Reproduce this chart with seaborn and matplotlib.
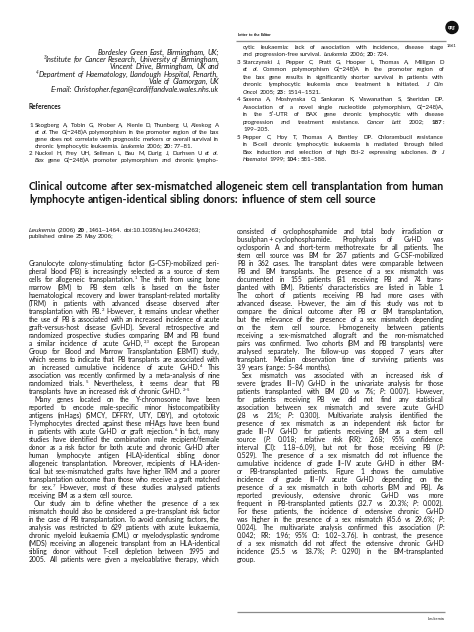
import re
import numpy as np
import matplotlib
matplotlib.use("Agg")
import matplotlib.pyplot as plt
from matplotlib.font_manager import FontProperties
from matplotlib.patches import Circle
import seaborn as sns

# --- page text (markup: _italic_, *bold*, {superscript}, leading ">" = indented paragraph) ---
header_label = "Letter to the Editor"
page_number = "1461"
logo_label = "npg"
footer_label = "Leukemia"
references_heading = "References"

affiliation_lines = [
    "Bordesley Green East, Birmingham, UK;",
    "{3}Institute for Cancer Research, University of Birmingham,",
    "Vincent Drive, Birmingham, UK and",
    "{4}Department of Haematology, Llandough Hospital, Penarth,",
    "Vale of Glamorgan, UK",
    "E-mail: Christopher.fegan@cardiffandvale.wales.nhs.uk",
]

reference_left_lines = [
    "1 Skogberg A, Tobin G, Krober A, Kienle D, Thunberg U, Aleskog A",
    "_et al._ The G(−248)A polymorphism in the promoter region of the bax",
    "gene does not correlate with prognostic markers or overall survival in",
    "chronic lymphocytic leukaemia. _Leukemia_ 2006; *20*: 77–81.",
    "2 Nuckel H, Frey UH, Sellman L, Bau M, Durig J, Durhsen U _et al._",
    "_Bax_ gene G(−248)A promoter polymorphism and chronic lympho-",
]

reference_right_lines = [
    "cytic leukaemia: lack of association with incidence, disease stage",
    "and progression-free survival. _Leukemia_ 2006; *20*: 724.",
    "3 Starczynski J, Pepper C, Pratt G, Hooper L, Thomas A, Milligan D",
    "_et al._ Common polymorphism G(−248)A in the promoter region of",
    "the bax gene results in significantly shorter survival in patients with",
    "chronic lymphocytic leukemia once treatment is initiated. _J Clin_",
    "_Oncol_ 2005; *23*: 1514–1521.",
    "4 Saxena A, Moshynska O, Sankaran K, Viswanathan S, Sheridan DP.",
    "Association of a novel single nucleotide polymorphism, G(−248)A,",
    "in the 5′-UTR of BAX gene chronic lymphocytic with disease",
    "progression and treatment resistance. _Cancer Lett_ 2002; *187*:",
    "199–205.",
    "5 Pepper C, Hoy T, Thomas A, Bentley DP. Chlorambucil resistance",
    "in B-cell chronic lymphocytic leukaemia is mediated through failed",
    "Bax induction and selection of high Bcl-2 expressing subclones. _Br J_",
    "_Haematol_ 1999; *104*: 581–588.",
]

title_lines = [
    "Clinical outcome after sex-mismatched allogeneic stem cell transplantation from human",
    "lymphocyte antigen-identical sibling donors: influence of stem cell source",
]

citation_lines = [
    "_Leukemia_ (2006) *20*, 1461–1464. doi:10.1038/sj.leu.2404263;",
    "published online 25 May 2006;",
]

body_left_lines = [
    "Granulocyte colony-stimulating factor (G-CSF)-mobilized peri-",
    "pheral blood (PB) is increasingly selected as a source of stem",
    "cells for allogeneic transplantation.{1} The shift from using bone",
    "marrow (BM) to PB stem cells is based on the faster",
    "haematological recovery and lower transplant-related mortality",
    "(TRM) in patients with advanced disease observed after",
    "transplantation with PB.{2} However, it remains unclear whether",
    "the use of PB is associated with an increased incidence of acute",
    "graft-versus-host disease (GvHD). Several retrospective and",
    "randomized prospective studies comparing BM and PB found",
    "a similar incidence of acute GvHD,{2,3} except the European",
    "Group for Blood and Marrow Transplantation (EBMT) study,",
    "which seems to indicate that PB transplants are associated with",
    "an increased cumulative incidence of acute GvHD.{4} This",
    "association was recently confirmed by a meta-analysis of nine",
    "randomized trials.{5} Nevertheless, it seems clear that PB",
    "transplants have an increased risk of chronic GvHD.{2–5}",
    ">Many genes located on the Y-chromosome have been",
    "reported to encode male-specific minor histocompatibility",
    "antigens (mHags) (SMCY, DFFRY, UTY, DBY), and cytotoxic",
    "T-lymphocytes directed against these mHAgs have been found",
    "in patients with acute GvHD or graft rejection.{6} In fact, many",
    "studies have identified the combination male recipient/female",
    "donor as a risk factor for both acute and chronic GvHD after",
    "human lymphocyte antigen (HLA)-identical sibling donor",
    "allogeneic transplantation. Moreover, recipients of HLA-iden-",
    "tical but sex-mismatched grafts have higher TRM and a poorer",
    "transplantation outcome than those who receive a graft matched",
    "for sex.{7} However, most of these studies analysed patients",
    "receiving BM as a stem cell source.",
    ">Our study aim to define whether the presence of a sex",
    "mismatch should also be considered a pre-transplant risk factor",
    "in the case of PB transplantation. To avoid confusing factors, the",
    "analysis was restricted to 629 patients with acute leukaemia,",
    "chronic myeloid leukaemia (CML) or myelodysplastic syndrome",
    "(MDS) receiving an allogeneic transplant from an HLA-identical",
    "sibling donor without T-cell depletion between 1995 and",
    "2005. All patients were given a myeloablative therapy, which",
]

body_right_lines = [
    "consisted of cyclophosphamide and total body irradiation or",
    "busulphan\u00a0+\u00a0cyclophosphamide. Prophylaxis of GvHD was",
    "cyclosporin A and short-term methotrexate for all patients. The",
    "stem cell source was BM for 267 patients and G-CSF-mobilized",
    "PB in 362 cases. The transplant dates were comparable between",
    "PB and BM transplants. The presence of a sex mismatch was",
    "documented in 155 patients (81 receiving PB and 74 trans-",
    "planted with BM). Patients' characteristics are listed in Table 1.",
    "The cohort of patients receiving PB had more cases with",
    "advanced disease. However, the aim of this study was not to",
    "compare the clinical outcome after PB or BM transplantation,",
    "but the relevance of the presence of a sex mismatch depending",
    "on the stem cell source. Homogeneity between patients",
    "receiving a sex-mismatched allograft and the non-mismatched",
    "pairs was confirmed. Two cohorts (BM and PB transplants) were",
    "analysed separately. The follow-up was stopped 7 years after",
    "transplant. Median observation time of surviving patients was",
    "3.9 years (range: 5–84 months).",
    ">Sex mismatch was associated with an increased risk of",
    "severe (grades III–IV) GvHD in the univariate analysis for those",
    "patients transplanted with BM (20 vs 7%; _P_: 0.007). However,",
    "for patients receiving PB we did not find any statistical",
    "association between sex mismatch and severe acute GvHD",
    "(28 vs 21%; _P_: 0.300). Multivariate analysis identified the",
    "presence of sex mismatch as an independent risk factor for",
    "grade III–IV GvHD for patients receiving BM as a stem cell",
    "source (_P_: 0.018; relative risk (RR): 2.68; 95% confidence",
    "interval (CI): 1.18–6.09), but not for those receiving PB (_P_:",
    "0.529). The presence of a sex mismatch did not influence the",
    "cumulative incidence of grade II–IV acute GvHD in either BM-",
    "or PB-transplanted patients. Figure 1 shows the cumulative",
    "incidence of grade III–IV acute GvHD depending on the",
    "presence of a sex mismatch in both cohorts (BM and PB). As",
    "reported previously, extensive chronic GvHD was more",
    "frequent in PB-transplanted patients (32.7 vs 20.3%; _P_: 0.002).",
    "For these patients, the incidence of extensive chronic GvHD",
    "was higher in the presence of a sex mismatch (45.6 vs 29.6%; _P_:",
    "0.024). The multivariate analysis confirmed this association (_P_:",
    "0.042; RR: 1.96; 95% CI: 1.02–3.76). In contrast, the presence",
    "of a sex mismatch did not affect the extensive chronic GvHD",
    "incidence (25.5 vs 18.7%; _P_: 0.290) in the BM-transplanted",
    "group.",
]

# --- page geometry in pixels ---
PAGE_W, PAGE_H = 474, 632
LEFT = (29, 220)
RIGHT = (237, 444)
INK = "#161616"
RULE = "#8a8a8a"
BODY_FONT = ["Lato", "DejaVu Sans"]
HEAD_FONT = ["Liberation Sans", "DejaVu Sans"]
PX = 100 / 72  # pixels per point

sns.set_theme(style="white")
plt.rcParams["font.family"] = BODY_FONT

fig = plt.figure(figsize=(PAGE_W / 100, PAGE_H / 100), dpi=100)
ax = fig.add_axes([0, 0, 1, 1])
ax.set_xlim(0, PAGE_W)
ax.set_ylim(PAGE_H, 0)
ax.axis("off")
renderer = fig.canvas.get_renderer()


def parse(line, italic=False, bold=False):
    words, segs, buf, sup = [], [], "", False
    for ch in line:
        if ch in "_*{} ":
            if buf:
                segs.append((buf, italic, bold, sup))
                buf = ""
            if ch == "_":
                italic = not italic
            elif ch == "*":
                bold = not bold
            elif ch == "{":
                sup = True
            elif ch == "}":
                sup = False
            elif segs:
                words.append(segs)
                segs = []
        else:
            buf += ch
    if buf:
        segs.append((buf, italic, bold, sup))
    if segs:
        words.append(segs)
    return words


def prop(family, size, it=False, bd=False, sup=False):
    return FontProperties(family=family, size=size * 0.62 if sup else size,
                          style="italic" if it else "normal",
                          weight="bold" if bd else "normal")


def metrics(s, fp):
    return renderer.get_text_width_height_descent(s, fp, ismath=False)


def text_w(s, fp):
    return metrics(s, fp)[0]


def snapped(s, fp, base):
    # keep every word of a line on the same pixel baseline in the Agg raster
    _, h, d = metrics(s, fp)
    return round(base) + np.floor(h) - np.floor(h - d) - d


def word_w(word, family, size):
    return sum(text_w(t, prop(family, size, it, bd, sp)) for t, it, bd, sp in word)


def space_w(family, size, bold=False):
    fp = prop(family, size, bd=bold)
    return text_w("a a", fp) - text_w("aa", fp)


def line_w(line, family, size, italic=False, bold=False, squeeze=1.0):
    words = parse(line, italic, bold)
    return (sum(word_w(w, family, size) for w in words)
            + squeeze * space_w(family, size, bold) * (len(words) - 1))


def fit(line, width, family, italic=False, bold=False):
    return 10 * width / line_w(line, family, 10, italic, bold)


def put_word(word, x, base, family, size, color):
    for t, it, bd, sp in word:
        fp = prop(family, size, it, bd, sp)
        y = base - (0.42 * size * PX if sp else 0)
        ax.text(x, snapped(t, fp, y), t, fontproperties=fp,
                ha="left", va="baseline", color=color)
        x += text_w(t, fp)


def draw_line(line, x0, x1, y, family, size, justify=False, align="left",
              italic=False, bold=False, color=INK):
    words = parse(line, italic, bold)
    widths = [word_w(w, family, size) for w in words]
    gap = space_w(family, size, bold)
    x = x0
    if align == "right":
        x = x1 - sum(widths) - gap * (len(words) - 1)
    elif justify and len(words) > 1:
        gap = (x1 - x0 - sum(widths)) / (len(words) - 1)
    base = y + 0.3 * size * PX
    for word, w in zip(words, widths):
        put_word(word, x, base, family, size, color)
        x += w + gap


def layout(lines, x0, x1, indent=0.0, hang=0.0, refs=False, continues=False):
    rows = []
    for k, raw in enumerate(lines):
        nxt = lines[k + 1] if k + 1 < len(lines) else None
        if nxt is None:
            ends = not continues
        else:
            ends = nxt.startswith(">") or (refs and re.match(r"\d+ ", nxt) is not None)
        text, num, start = raw, None, x0
        if raw.startswith(">"):
            text, start = raw[1:], x0 + indent
        if refs:
            m = re.match(r"(\d+) (.*)", raw)
            if m:
                num, text = m.group(1), m.group(2)
            start = x0 + hang
        rows.append(dict(text=text, num=num, x0=start, x1=x1, justify=not ends, x_num=x0))
    return rows


def fit_rows(rows, family, squeeze=0.8):
    ratios = [(r["x1"] - r["x0"]) / line_w(r["text"], family, 10, squeeze=squeeze)
              for r in rows if r["justify"]]
    return 10 * min(ratios)


def draw_rows(rows, y0, dy, family, size):
    for k, r in enumerate(rows):
        y = y0 + k * dy
        if r["num"]:
            draw_line(r["num"], r["x_num"], r["x1"], y, family, size)
        draw_line(r["text"], r["x0"], r["x1"], y, family, size, justify=r["justify"])


# header strip
head_size = fit(header_label, 34, HEAD_FONT, bold=True)
draw_line(header_label, 238, 445, 35, HEAD_FONT, head_size, bold=True)
ax.hlines(40.5, 236, 446, color=RULE, lw=0.9)
ax.add_patch(Circle((452, 27.5), 6.0, color="#111111"))
ax.text(452, 27.8, logo_label, color="white", fontsize=3.5, fontweight="bold",
        fontstyle="italic", ha="center", va="center", family=BODY_FONT)
num_size = fit(page_number, 10, BODY_FONT)
ax.text(452, 46, page_number, fontsize=num_size, ha="center", va="center",
        color=INK, family=BODY_FONT)

# affiliations, right aligned and italic
aff_size = fit(affiliation_lines[-1], 170, BODY_FONT, italic=True)
for k, line in enumerate(affiliation_lines):
    draw_line(line, LEFT[0], 219, 52.3 + k * 7.45, BODY_FONT, aff_size,
              align="right", italic=True)

# references
refh_size = fit(references_heading, 33, BODY_FONT, bold=True)
draw_line(references_heading, LEFT[0], LEFT[1], 107.5, BODY_FONT, refh_size, bold=True)
ref_l = layout(reference_left_lines, LEFT[0], 219, hang=6, refs=True, continues=True)
ref_r = layout(reference_right_lines, RIGHT[0], RIGHT[1], hang=6, refs=True)
ref_size = min(fit_rows(ref_l, BODY_FONT), fit_rows(ref_r, BODY_FONT))
draw_rows(ref_l, 125.5, 7.0, BODY_FONT, ref_size)
draw_rows(ref_r, 47.0, 7.5, BODY_FONT, ref_size)

# title
title_size = fit(title_lines[0], RIGHT[1] - LEFT[0], BODY_FONT, bold=True)
for k, line in enumerate(title_lines):
    draw_line(line, LEFT[0], RIGHT[1], 187 + k * 13, BODY_FONT, title_size, bold=True)

# citation block
cite_size = fit(citation_lines[0], 172, HEAD_FONT)
for k, line in enumerate(citation_lines):
    draw_line(line, LEFT[0], LEFT[1], 230 + k * 6.2, HEAD_FONT, cite_size)

# body columns
body_l = layout(body_left_lines, LEFT[0], LEFT[1], indent=5, continues=True)
body_r = layout(body_right_lines, RIGHT[0], RIGHT[1], indent=5)
body_size = min(fit_rows(body_l, BODY_FONT), fit_rows(body_r, BODY_FONT))
draw_rows(body_l, 263.5, 8.0, BODY_FONT, body_size)
draw_rows(body_r, 232, 8.0, BODY_FONT, body_size)

# footer
ax.hlines(611.5, RIGHT[0], RIGHT[1] + 1, color=RULE, lw=0.9)
foot_size = fit(footer_label, 17, HEAD_FONT)
draw_line(footer_label, LEFT[0], RIGHT[1], 619, HEAD_FONT, foot_size, align="right")

fig.savefig("out.png", dpi=100, facecolor="white")
